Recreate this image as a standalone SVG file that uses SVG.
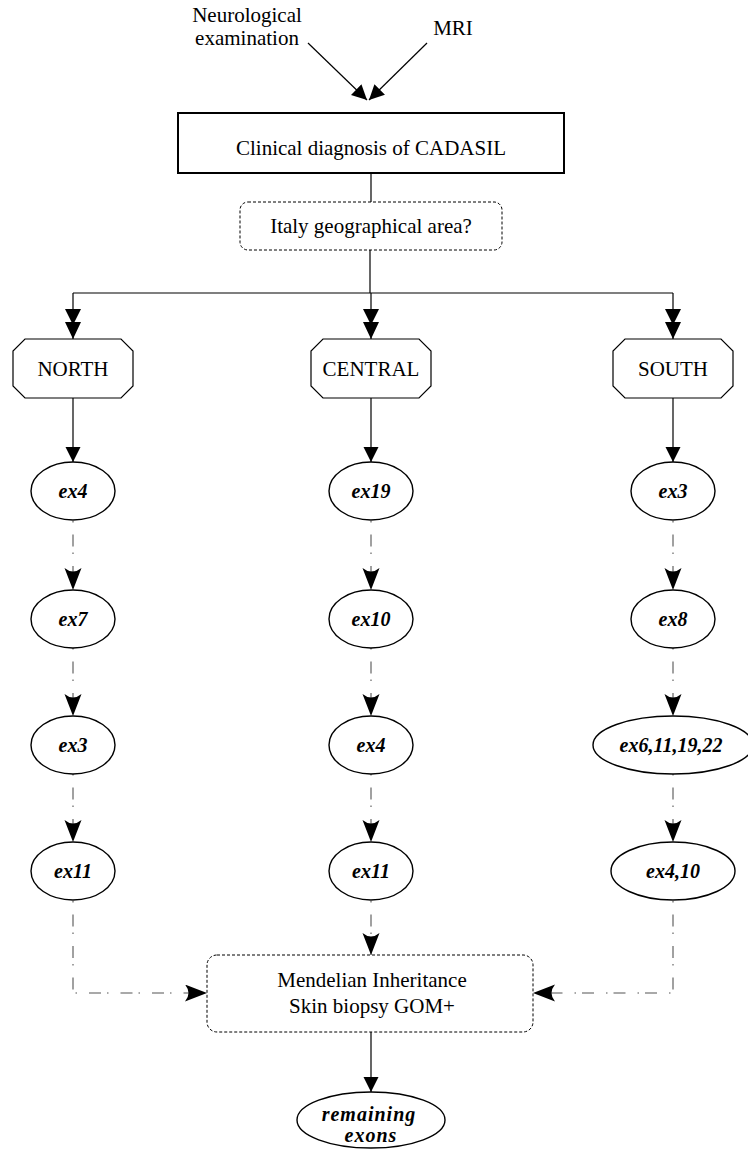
<svg xmlns="http://www.w3.org/2000/svg" width="748" height="1150" viewBox="0 0 748 1150">
  <style>
    .t { font-family: "Liberation Serif", "Times New Roman", serif; font-size: 21px; fill: #000; text-anchor: middle; }
    .ex { font-family: "Liberation Serif", "Times New Roman", serif; font-size: 20px; font-weight: bold; font-style: italic; fill: #000; text-anchor: middle; }
    .oct { fill: #fff; stroke: #000; stroke-width: 1.2; }
    .ell { fill: #fff; stroke: #000; stroke-width: 1.4; }
    .dotbox { fill: #fff; stroke: #000; stroke-width: 1; stroke-dasharray: 3 2; }
    .solid { fill: none; stroke: #000; stroke-width: 1.2; }
    .dd { fill: none; stroke: #555; stroke-width: 1.1; stroke-dasharray: 1.5 12 12 6; }
  </style>
  <defs>
    <marker id="arr" markerUnits="userSpaceOnUse" markerWidth="16" markerHeight="16" refX="15" refY="7.5" orient="auto">
      <path d="M0,0 L15,7.5 L0,15 Z" fill="#000"/>
    </marker>
    <marker id="arrd" markerUnits="userSpaceOnUse" markerWidth="24" markerHeight="18" refX="22" refY="8.5" orient="auto">
      <path d="M0,0 Q7,8.5 0,17 L22,8.5 Z" fill="#000"/>
    </marker>
    <marker id="arr2" markerUnits="userSpaceOnUse" markerWidth="32" markerHeight="18" refX="30" refY="8" orient="auto">
      <path d="M0,0 L16,8 L0,16 Z M13,0 L30,8 L13,16 Z" fill="#000"/>
    </marker>
  </defs>

  <!-- inputs -->
  <g id="neuro">
    <text class="t" x="247" y="22">Neurological</text>
    <text class="t" x="247" y="45">examination</text>
  </g>
  <g id="mri">
    <text class="t" x="453" y="35">MRI</text>
  </g>

  <!-- connectors -->
  <g id="connectors">
    <path class="solid" d="M308,43 L367,100" marker-end="url(#arr)"/>
    <path class="solid" d="M427,43 L369,100" marker-end="url(#arr)"/>
    <path class="solid" d="M371,173 V202"/>
    <path class="solid" d="M370,250 V293"/>
    <path class="solid" d="M73,293 H673"/>
    <path class="solid" d="M73,293 V339" marker-end="url(#arr2)"/>
    <path class="solid" d="M371,293 V339" marker-end="url(#arr2)"/>
    <path class="solid" d="M673,293 V339" marker-end="url(#arr2)"/>
    <path class="solid" d="M73,398 V462" marker-end="url(#arr)"/>
    <path class="solid" d="M371,398 V462" marker-end="url(#arr)"/>
    <path class="solid" d="M673,398 V462" marker-end="url(#arr)"/>
    <!-- north chain -->
    <path class="dd" d="M73,521 V590" marker-end="url(#arrd)"/>
    <path class="dd" d="M73,648 V716" marker-end="url(#arrd)"/>
    <path class="dd" d="M73,774 V842" marker-end="url(#arrd)"/>
    <path class="dd" d="M73,901 V993 H207" marker-end="url(#arrd)"/>
    <!-- central chain -->
    <path class="dd" d="M371,521 V590" marker-end="url(#arrd)"/>
    <path class="dd" d="M371,648 V716" marker-end="url(#arrd)"/>
    <path class="dd" d="M371,774 V842" marker-end="url(#arrd)"/>
    <path class="dd" d="M371,901 V955" marker-end="url(#arrd)"/>
    <!-- south chain -->
    <path class="dd" d="M673,521 V590" marker-end="url(#arrd)"/>
    <path class="dd" d="M673,648 V716" marker-end="url(#arrd)"/>
    <path class="dd" d="M673,774 V842" marker-end="url(#arrd)"/>
    <path class="dd" d="M673,901 V993 H533" marker-end="url(#arrd)"/>
    <path class="solid" d="M371,1032 V1092" marker-end="url(#arr)"/>
  </g>

  <g id="diagnosis">
    <rect x="178" y="113" width="386" height="60" fill="#fff" stroke="#000" stroke-width="2"/>
    <text class="t" x="371" y="155">Clinical diagnosis of CADASIL</text>
  </g>
  <g id="area">
    <rect class="dotbox" x="240" y="202" width="262" height="48" rx="8"/>
    <text class="t" x="371" y="233">Italy geographical area?</text>
  </g>

  <g id="north">
    <polygon class="oct" points="25,339 121,339 133,351 133,386 121,398 25,398 13,386 13,351"/>
    <text class="t" x="73" y="376">NORTH</text>
  </g>
  <g id="central">
    <polygon class="oct" points="323,339 419,339 431,351 431,386 419,398 323,398 311,386 311,351"/>
    <text class="t" x="371" y="376">CENTRAL</text>
  </g>
  <g id="south">
    <polygon class="oct" points="625,339 721,339 733,351 733,386 721,398 625,398 613,386 613,351"/>
    <text class="t" x="673" y="376">SOUTH</text>
  </g>

  <!-- north exons -->
  <g id="n-ex4"><ellipse class="ell" cx="73" cy="491" rx="42" ry="29"/><text class="ex" x="73" y="498">ex4</text></g>
  <g id="n-ex7"><ellipse class="ell" cx="73" cy="619" rx="42" ry="29"/><text class="ex" x="73" y="626">ex7</text></g>
  <g id="n-ex3"><ellipse class="ell" cx="73" cy="745" rx="42" ry="29"/><text class="ex" x="73" y="752">ex3</text></g>
  <g id="n-ex11"><ellipse class="ell" cx="73" cy="871" rx="42" ry="29"/><text class="ex" x="73" y="878">ex11</text></g>

  <!-- central exons -->
  <g id="c-ex19"><ellipse class="ell" cx="371" cy="491" rx="42" ry="29"/><text class="ex" x="371" y="498">ex19</text></g>
  <g id="c-ex10"><ellipse class="ell" cx="371" cy="619" rx="42" ry="29"/><text class="ex" x="371" y="626">ex10</text></g>
  <g id="c-ex4"><ellipse class="ell" cx="371" cy="745" rx="42" ry="29"/><text class="ex" x="371" y="752">ex4</text></g>
  <g id="c-ex11"><ellipse class="ell" cx="371" cy="871" rx="42" ry="29"/><text class="ex" x="371" y="878">ex11</text></g>

  <!-- south exons -->
  <g id="s-ex3"><ellipse class="ell" cx="673" cy="491" rx="42" ry="29"/><text class="ex" x="673" y="498">ex3</text></g>
  <g id="s-ex8"><ellipse class="ell" cx="673" cy="619" rx="42" ry="29"/><text class="ex" x="673" y="626">ex8</text></g>
  <g id="s-ex6"><ellipse class="ell" cx="673" cy="745" rx="80" ry="29"/><text class="ex" x="671" y="752">ex6,11,19,22</text></g>
  <g id="s-ex4-10"><ellipse class="ell" cx="673" cy="871" rx="62" ry="29"/><text class="ex" x="673" y="878">ex4,10</text></g>

  <g id="mendelian">
    <rect class="dotbox" x="207" y="955" width="326" height="77" rx="10"/>
    <text class="t" x="372" y="987">Mendelian Inheritance</text>
    <text class="t" x="372" y="1013">Skin biopsy GOM+</text>
  </g>

  <g id="remaining">
    <ellipse class="ell" cx="371" cy="1120" rx="74" ry="28"/>
    <text class="ex" x="369" y="1121" letter-spacing="1">remaining</text>
    <text class="ex" x="371" y="1142" letter-spacing="1">exons</text>
  </g>
</svg>
